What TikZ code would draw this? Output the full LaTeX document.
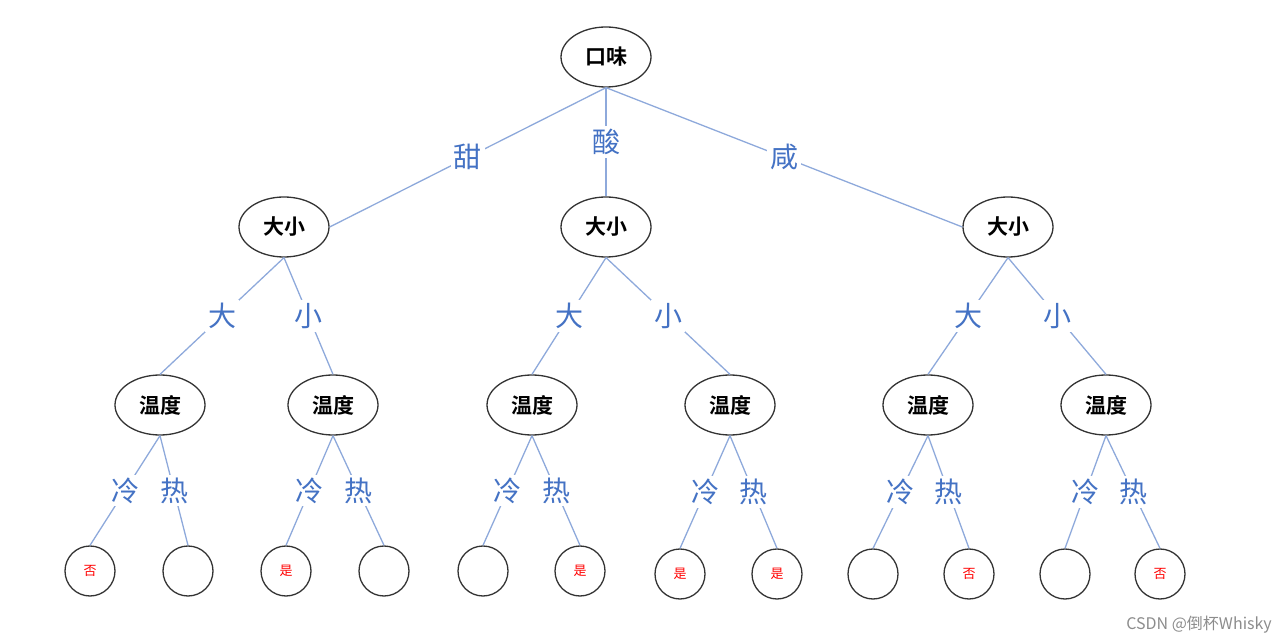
\documentclass[tikz,border=0pt]{standalone}
\usepackage{fontspec}
\setmainfont{Noto Sans CJK SC}
\newfontfamily\cjkb{Noto Sans CJK SC Bold}
\usetikzlibrary{shapes.geometric}
\definecolor{edgeblue}{HTML}{8EA9DB}
\definecolor{labblue}{HTML}{4472C4}
\tikzset{
  ell/.style={draw=black!80, line width=1.3pt, ellipse, minimum width=90pt, minimum height=60pt, inner sep=0pt, font=\cjkb\fontsize{21}{21}\selectfont},
  leaf/.style={draw=black!80, line width=1.3pt, circle, minimum size=50pt, inner sep=0pt, text=red, font=\fontsize{13}{13}\selectfont},
  conn/.style={draw=edgeblue, line width=1.3pt},
  lab/.style={fill=white, text=labblue, inner sep=3pt, font=\fontsize{28}{28}\selectfont}
}
\begin{document}
\begin{tikzpicture}[x=1pt,y=-1pt]
\useasboundingbox (0,0) rectangle (1286,644);
% nodes
\node[ell] (r) at (606,57) {口味};
\node[ell] (a) at (284,227) {大小};
\node[ell] (b) at (606,227) {大小};
\node[ell] (c) at (1008,227) {大小};
\node[ell] (a1) at (160,405) {温度};
\node[ell] (a2) at (333,405) {温度};
\node[ell] (b1) at (532,405) {温度};
\node[ell] (b2) at (730,405) {温度};
\node[ell] (c1) at (928,405) {温度};
\node[ell] (c2) at (1106,405) {温度};
\node[leaf] (l1) at (90,571) {否};
\node[leaf] (l2) at (188,571) {};
\node[leaf] (l3) at (286,571) {是};
\node[leaf] (l4) at (384,571) {};
\node[leaf] (l5) at (483,571) {};
\node[leaf] (l6) at (580,571) {是};
\node[leaf] (l7) at (680,574) {是};
\node[leaf] (l8) at (777,574) {是};
\node[leaf] (l9) at (873,574) {};
\node[leaf] (l10) at (969,574) {否};
\node[leaf] (l11) at (1065,574) {};
\node[leaf] (l12) at (1160,574) {否};
% edges
\draw[conn] (r.south) -- node[lab] {甜} (a.east);
\draw[conn] (r.south) -- node[lab] {酸} (b.north);
\draw[conn] (r.south) -- node[lab] {咸} (c.west);
\foreach \p/\x/\y in {a/a1/a2, b/b1/b2, c/c1/c2}{
  \draw[conn] (\p.south) -- node[lab] {大} (\x.north);
  \draw[conn] (\p.south) -- node[lab] {小} (\y.north);
}
\foreach \p/\x/\y in {a1/l1/l2, a2/l3/l4, b1/l5/l6, b2/l7/l8, c1/l9/l10, c2/l11/l12}{
  \draw[conn] (\p.south) -- node[lab] {冷} (\x.north);
  \draw[conn] (\p.south) -- node[lab] {热} (\y.north);
}
\node[text=black!45, font=\fontsize{16}{16}\selectfont, anchor=east, inner sep=0pt] (wm) at (1272,625) {CSDN @倒杯Whisky};
\end{tikzpicture}
\end{document}
